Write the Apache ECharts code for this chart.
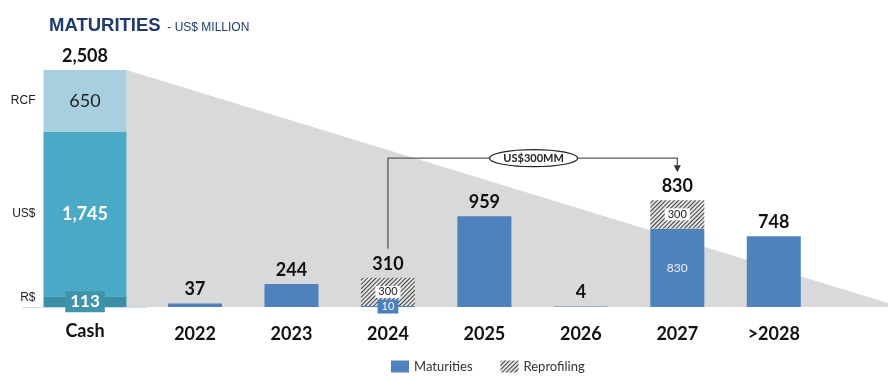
<!DOCTYPE html>
<html><head><meta charset="utf-8">
<script src="https://cdn.jsdelivr.net/npm/echarts@6/dist/echarts.min.js"></script>
<style>html,body{margin:0;padding:0;background:#fff}#c{width:888px;height:376px}</style>
</head><body><div id="c"></div>
<script>
// ---- data ----
const cashCategories = ['Cash'];
const cashSegments = ['R$', 'US$', 'RCF'];
const cashValues = [113, 1745, 650];
const cashTotalLabel = '2,508';
const years = ['2022', '2023', '2024', '2025', '2026', '2027', '>2028'];
const maturities = [37, 244, 10, 959, 4, 830, 748];
const reprofiling = [null, null, 300, null, null, 300, null];
const totalLabels = ['37', '244', '310', '959', '4', '830', '748'];
const annotationFrom = '2024';
const annotationTo = '2027';
const annotationText = 'US$300MM';

// ---- styles ----
const NUM_FONT = 'Lato';
const cashColors = ['#3a8ea6', '#4aaac6', '#a8cfdf'];
const blue = '#4f81bd';
const CASH_BAR_W = 83;
const YEAR_BAR_W = 54;

const chart = echarts.init(document.getElementById('c'), null, {renderer: 'canvas'});
const cashTotal = cashValues.reduce((a, b) => a + b, 0);
const stackTop = i => (maturities[i] || 0) + (reprofiling[i] || 0);

const cashLabelStyles = [
  {show: true, position: 'inside', formatter: p => p.value.toLocaleString('en-US'), color: '#fff', fontFamily: NUM_FONT, fontWeight: 'bold', fontSize: 17, backgroundColor: '#3f94ac', padding: [3, 5, 1, 5]},
  {show: true, position: 'inside', formatter: p => p.value.toLocaleString('en-US'), color: '#fff', fontFamily: NUM_FONT, fontWeight: 'bold', fontSize: 18},
  {show: true, position: 'inside', formatter: p => p.value.toLocaleString('en-US'), color: '#222', fontFamily: NUM_FONT, fontSize: 18}
];

const series = [];
// gray wedge behind bars
series.push({
  type: 'custom', xAxisIndex: 0, yAxisIndex: 0, z: 1, clip: false, silent: true,
  data: [[0, cashTotal]],
  renderItem: (params, api) => {
    const top = api.coord([api.value(0), api.value(1)]);
    const base = api.coord([api.value(0), 0]);
    const x0 = top[0] + CASH_BAR_W / 2;
    const W = api.getWidth();
    return {type: 'polygon', shape: {points: [[x0, top[1]], [W, base[1] - 4], [W, base[1]], [x0, base[1]]]}, style: {fill: '#d9d9d9'}};
  }
});
cashSegments.forEach((name, i) => {
  series.push({
    name: name, type: 'bar', stack: 'cash', xAxisIndex: 0, yAxisIndex: 0, z: 2,
    barWidth: CASH_BAR_W, barGap: '-100%',
    data: [cashValues[i]],
    itemStyle: {color: cashColors[i]},
    label: cashLabelStyles[i]
  });
});
series.push({
  name: 'cashTotal', type: 'bar', stack: 'cash', xAxisIndex: 0, yAxisIndex: 0, z: 3,
  barWidth: CASH_BAR_W, barGap: '-100%', data: [0],
  itemStyle: {color: 'transparent'},
  label: {show: true, position: 'top', distance: 5, formatter: () => cashTotalLabel, color: '#111', fontFamily: NUM_FONT, fontWeight: 'bold', fontSize: 18}
});
cashSegments.forEach((name, i) => {
  series.push({
    name: name + ' name', type: 'bar', stack: 'names', xAxisIndex: 0, yAxisIndex: 0, z: 3,
    barWidth: CASH_BAR_W, barGap: '-100%',
    data: [cashValues[i]],
    itemStyle: {color: 'transparent'},
    label: {show: true, position: 'left', distance: 8, offset: i === 0 ? [0, -4] : [0, 0], formatter: () => name, color: '#222', fontFamily: 'Liberation Sans', fontSize: 12}
  });
});

// year bars
series.push({
  name: 'Maturities', type: 'bar', stack: 'y', xAxisIndex: 1, yAxisIndex: 1, z: 2,
  barWidth: YEAR_BAR_W,
  itemStyle: {color: blue},
  data: maturities.map((v, i) => {
    let label = {show: false};
    if (reprofiling[i] != null && v < 50) {
      label = {show: true, position: 'inside', formatter: '{c}', color: '#fff', fontFamily: NUM_FONT, fontSize: 11, backgroundColor: '#4a7fc0', padding: [2, 4, 1, 4]};
    } else if (reprofiling[i] != null) {
      label = {show: true, position: 'inside', formatter: '{c}', color: '#eef3fa', fontFamily: NUM_FONT, fontSize: 12};
    }
    return {value: v, label: label};
  })
});
series.push({
  name: 'Reprofiling', type: 'bar', stack: 'y', xAxisIndex: 1, yAxisIndex: 1, z: 2,
  barWidth: YEAR_BAR_W,
  itemStyle: {color: '#e4e4e4', decal: {symbol: 'rect', symbolSize: 1, color: 'rgba(45,45,45,0.9)', dashArrayX: [[1, 0]], dashArrayY: [1, 2], rotation: -Math.PI / 4}},
  data: reprofiling,
  label: {show: true, position: 'inside', formatter: '{c}', color: '#222', fontFamily: NUM_FONT, fontSize: 11, backgroundColor: '#fff', padding: [1, 3, 0, 3]}
});
series.push({
  name: 'totals', type: 'bar', stack: 'y', xAxisIndex: 1, yAxisIndex: 1, z: 3,
  barWidth: YEAR_BAR_W,
  itemStyle: {color: 'transparent'},
  data: years.map(() => 0),
  label: {show: true, position: 'top', distance: 5, formatter: p => totalLabels[p.dataIndex], color: '#111', fontFamily: NUM_FONT, fontWeight: 'bold', fontSize: 18}
});
// annotation bracket
series.push({
  type: 'custom', xAxisIndex: 1, yAxisIndex: 1, z: 6, clip: false, silent: true,
  data: [[years.indexOf(annotationFrom), years.indexOf(annotationTo)]],
  renderItem: (params, api) => {
    const fi = api.value(0), ti = api.value(1);
    const a = api.coord([fi, stackTop(fi)]);
    const b = api.coord([ti, stackTop(ti)]);
    const yLine = b[1] - 42;
    const y0 = a[1] - 29;
    const yTip = b[1] - 28;
    const cx = (a[0] + b[0]) / 2 + 1;
    return {type: 'group', children: [
      {type: 'polyline', shape: {points: [[a[0], y0], [a[0], yLine], [b[0], yLine], [b[0], yTip - 5]]}, style: {stroke: '#595959', lineWidth: 1.3, fill: null}},
      {type: 'polygon', shape: {points: [[b[0] - 3.5, yTip - 7], [b[0] + 3.5, yTip - 7], [b[0], yTip]]}, style: {fill: '#333'}},
      {type: 'ellipse', shape: {cx: cx, cy: yLine, rx: 44, ry: 8.5}, style: {fill: '#fff', stroke: '#222', lineWidth: 1.2}},
      {type: 'text', style: {text: annotationText, x: cx, y: yLine + 0.5, align: 'center', verticalAlign: 'middle', font: 'bold 11px Lato', fill: '#222'}}
    ]};
  }
});

const option = {
  animation: false,
  backgroundColor: '#fff',
  title: {
    left: 44, top: 11,
    text: '{a|MATURITIES}{b|  - US$ MILLION}',
    textStyle: {rich: {
      a: {fontFamily: 'Liberation Sans', fontWeight: 'bold', fontSize: 18.5, color: '#1f3a6e', verticalAlign: 'bottom'},
      b: {fontFamily: 'Liberation Sans', fontWeight: 'normal', fontSize: 12, color: '#1f3a6e', verticalAlign: 'bottom', padding: [0, 0, 1, 0]}
    }}
  },
  legend: {
    data: ['Maturities', 'Reprofiling'], left: 386, top: 355, itemWidth: 18, itemHeight: 12, itemGap: 28, icon: 'rect',
    textStyle: {fontFamily: NUM_FONT, fontSize: 13, color: '#333'}
  },
  grid: [
    {left: 23, width: 124, top: 23.5, bottom: 69, outerBoundsMode: 'none'},
    {left: 146.8, right: 66, top: 23.5, bottom: 69, outerBoundsMode: 'none'}
  ],
  xAxis: [
    {type: 'category', gridIndex: 0, data: cashCategories, axisLine: {lineStyle: {color: '#c9dcef', width: 1}}, axisTick: {show: false},
      axisLabel: {margin: 15, fontFamily: NUM_FONT, fontWeight: 'bold', fontSize: 18, color: '#111'}},
    {type: 'category', gridIndex: 1, data: years, axisLine: {show: false}, axisTick: {show: false},
      axisLabel: {margin: 18, fontFamily: NUM_FONT, fontWeight: 'bold', fontSize: 18, color: '#111'}}
  ],
  yAxis: [
    {type: 'value', gridIndex: 0, min: 0, max: 3000, show: false},
    {type: 'value', gridIndex: 1, min: 0, max: 3000, show: false}
  ],
  series: series
};
chart.setOption(option);
</script>
</body></html>
